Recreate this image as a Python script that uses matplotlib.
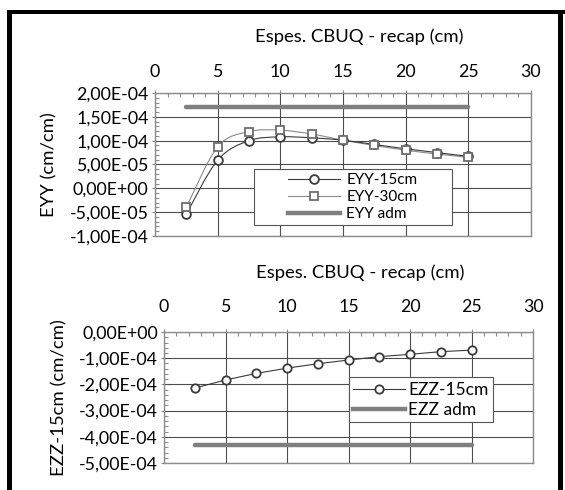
import matplotlib
matplotlib.use("Agg")
import matplotlib.pyplot as plt
import numpy as np
from matplotlib.path import Path
from matplotlib.patches import PathPatch, Rectangle
from matplotlib.lines import Line2D
from matplotlib.ticker import MultipleLocator, FuncFormatter

plt.rcParams['font.family'] = ['Lato', 'DejaVu Sans']

# espessura do recapeamento (cm)
espes = [2.5, 5, 7.5, 10, 12.5, 15, 17.5, 20, 22.5, 25]
eyy_15 = [-5.4e-5, 5.9e-5, 1.00e-4, 1.08e-4, 1.06e-4, 1.01e-4, 9.2e-5, 8.3e-5, 7.5e-5, 6.7e-5]
eyy_30 = [-4.0e-5, 8.7e-5, 1.19e-4, 1.22e-4, 1.14e-4, 1.01e-4, 9.0e-5, 8.0e-5, 7.2e-5, 6.5e-5]
eyy_adm = [1.7e-4, 1.7e-4]
ezz_15 = [-2.14e-4, -1.83e-4, -1.58e-4, -1.38e-4, -1.21e-4, -1.07e-4, -9.4e-5, -8.5e-5, -7.5e-5, -6.9e-5]
ezz_adm = [-4.31e-4, -4.31e-4]
adm_x = [2.5, 25]

xlabel = 'Espes. CBUQ - recap (cm)'
GRID = '#4d4d4d'
FRAME = '#8c8c8c'
ADM = '#7f7f7f'
FS = 12.8


def sci_virgula(v, pos):
    if abs(v) < 1e-12:
        v = 0.0
    return ('%.2E' % v).replace('.', ',')


def curva_suave(x, y):
    # curva tipo "linha suavizada" do Excel (bezier cubica)
    p = np.column_stack([x, y]).astype(float)
    verts = [p[0]]
    codes = [Path.MOVETO]
    n = len(p)
    for i in range(n - 1):
        p0 = p[i - 1] if i > 0 else p[i]
        p3 = p[i + 2] if i + 2 < n else p[i + 1]
        c1 = p[i] + (p[i + 1] - p0) / 6.0
        c2 = p[i + 1] - (p3 - p[i]) / 6.0
        verts += [c1, c2, p[i + 1]]
        codes += [Path.CURVE4] * 3
    return Path(verts, codes)


def estilo(ax, ymin, ymax, ymaj, ymin_step, tickpad, labelpad, titlex):
    ax.set_xlim(0, 30)
    ax.set_ylim(ymin, ymax)
    ax.xaxis.set_major_locator(MultipleLocator(5))
    ax.xaxis.set_minor_locator(MultipleLocator(1))
    ax.yaxis.set_major_locator(MultipleLocator(ymaj))
    ax.yaxis.set_minor_locator(MultipleLocator(ymin_step))
    ax.yaxis.set_major_formatter(FuncFormatter(sci_virgula))
    ax.xaxis.tick_top()
    ax.xaxis.set_label_position('top')
    ax.tick_params(axis='x', which='major', direction='out', length=2.5,
                   width=0.8, color=FRAME, labelsize=FS, pad=tickpad)
    ax.tick_params(axis='y', which='major', direction='out', length=2.5,
                   width=0.8, color=FRAME, labelsize=FS, pad=2)
    ax.tick_params(which='minor', direction='in', length=3, width=0.8, color=FRAME)
    ax.tick_params(axis='x', which='both', bottom=False)
    ax.tick_params(axis='y', which='both', right=False)
    ax.grid(True, which='major', color=GRID, lw=0.8)
    ax.set_axisbelow(True)
    for s in ax.spines.values():
        s.set_color(FRAME)
        s.set_linewidth(1.0)
    ax.set_xlabel(xlabel, fontsize=13.3, labelpad=labelpad)
    ax.xaxis.label.set_x(titlex)


fig = plt.figure(figsize=(5.65, 4.9), dpi=100)

# --- EYY ---
ax1 = fig.add_axes([0.2743, 0.5184, 0.6655, 0.2918])
estilo(ax1, -1e-4, 2e-4, 5e-5, 1e-5, 7, 15.5, 0.543)
ax1.plot(adm_x, eyy_adm, color=ADM, lw=3.2, solid_capstyle='round', zorder=3)
ax1.add_patch(PathPatch(curva_suave(espes, eyy_30), fill=False, ec='#8a8a8a', lw=0.8, zorder=4))
ax1.add_patch(PathPatch(curva_suave(espes, eyy_15), fill=False, ec='#3a3a3a', lw=0.8, zorder=4))
ax1.plot(espes, eyy_15, ls='none', marker='o', ms=6.3, mfc='white', mec='#3a3a3a', mew=1.3, zorder=5)
ax1.plot(espes, eyy_30, ls='none', marker='s', ms=6.3, mfc='white', mec='#6e6e6e', mew=1.3, zorder=6)
ax1.set_ylabel('EYY (cm/cm)', fontsize=13.3, labelpad=9)

ax1.add_patch(Rectangle((0.263, 0.077), 0.527, 0.388, transform=ax1.transAxes,
                        fc='white', ec='#555555', lw=0.8, zorder=4.5))
h1 = [Line2D([], [], color='#3a3a3a', lw=0.8, marker='o', ms=6.3, mfc='white', mec='#3a3a3a', mew=1.3),
      Line2D([], [], color='#8a8a8a', lw=0.8, marker='s', ms=6.3, mfc='white', mec='#6e6e6e', mew=1.3),
      Line2D([], [], color=ADM, lw=3.2)]
leg1 = ax1.legend(h1, ['EYY-15cm', 'EYY-30cm', 'EYY adm'], loc='center',
                  bbox_to_anchor=(0.263, 0.077, 0.527, 0.388), frameon=False,
                  fontsize=11, handlelength=3.4, handletextpad=0.4, labelspacing=0.2,
                  borderpad=0.1)
leg1.set_zorder(7)

# --- EZZ ---
ax2 = fig.add_axes([0.2903, 0.0551, 0.6531, 0.2673])
estilo(ax2, -5e-4, 0, 1e-4, 2e-5, 10, 15, 0.531)
ax2.plot(adm_x, ezz_adm, color=ADM, lw=3.2, solid_capstyle='round', zorder=3)
ax2.plot(espes, ezz_15, color='#3a3a3a', lw=0.8, marker='o', ms=6, mfc='white',
         mec='#3a3a3a', mew=1.3, zorder=5)
ax2.set_ylabel('EZZ-15cm (cm/cm)', fontsize=13.3, labelpad=8)

h2 = [Line2D([], [], color='#3a3a3a', lw=0.8, marker='o', ms=6, mfc='white', mec='#3a3a3a', mew=1.3),
      Line2D([], [], color=ADM, lw=3.2)]
leg2 = ax2.legend(h2, ['EZZ-15cm', 'EZZ adm'], loc='lower left',
                  bbox_to_anchor=(0.50, 0.31), fontsize=12.5, handlelength=3.0,
                  handletextpad=0.2, labelspacing=0.25, borderpad=0.25,
                  borderaxespad=0, fancybox=False, framealpha=1)
leg2.get_frame().set_edgecolor('#555555')
leg2.get_frame().set_linewidth(0.8)
leg2.set_zorder(7)

# moldura preta
W, H = 565.0, 490.0
fig.add_artist(Rectangle((7 / W, 0), 5 / W, 1 - 10 / H, transform=fig.transFigure, fc='black', ec='none'))
fig.add_artist(Rectangle((7 / W, 1 - 14 / H), 1, 4 / H, transform=fig.transFigure, fc='black', ec='none'))
fig.add_artist(Rectangle((558 / W, 0), 5 / W, 1 - 10 / H, transform=fig.transFigure, fc='black', ec='none'))

fig.savefig('out.png', dpi=100)
